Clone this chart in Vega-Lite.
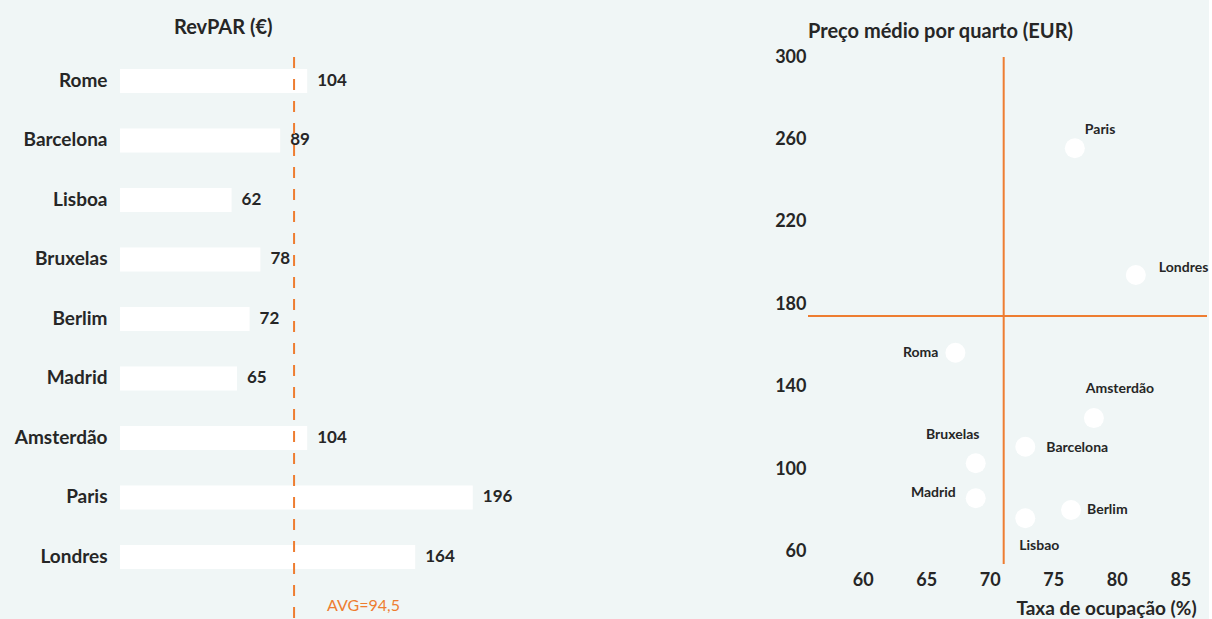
{
  "$schema": "https://vega.github.io/schema/vega-lite/v6.json",
  "background": "#f0f6f6",
  "padding": {"left": 14, "top": 18, "right": 0, "bottom": 0},
  "config": {
    "font": "Lato",
    "view": {"stroke": null},
    "axis": {"grid": false, "domain": false, "ticks": false, "labelColor": "#262626", "labelFont": "Lato", "labelFontWeight": "bold", "titleColor": "#262626", "titleFont": "Lato", "titleFontWeight": "bold"},
    "title": {"color": "#262626", "font": "Lato", "fontWeight": "bold", "fontSize": 20}
  },
  "datasets": {
    "revpar": [
      {"city": "Rome", "value": 104},
      {"city": "Barcelona", "value": 89},
      {"city": "Lisboa", "value": 62},
      {"city": "Bruxelas", "value": 78},
      {"city": "Berlim", "value": 72},
      {"city": "Madrid", "value": 65},
      {"city": "Amsterdão", "value": 104},
      {"city": "Paris", "value": 196},
      {"city": "Londres", "value": 164}
    ],
    "scatter": [
      {"city": "Paris", "occ": 76.7, "price": 255.7},
      {"city": "Londres", "occ": 81.5, "price": 194.2},
      {"city": "Roma", "occ": 67.3, "price": 156.5},
      {"city": "Amsterdão", "occ": 78.2, "price": 124.8},
      {"city": "Barcelona", "occ": 72.8, "price": 110.9},
      {"city": "Bruxelas", "occ": 68.9, "price": 102.9},
      {"city": "Madrid", "occ": 68.9, "price": 85.9},
      {"city": "Berlim", "occ": 76.4, "price": 80.2},
      {"city": "Lisbao", "occ": 72.8, "price": 76.2}
    ]
  },
  "spacing": 249,
  "hconcat": [
    {
      "width": 405,
      "height": 563,
      "title": {"text": "RevPAR (€)", "anchor": "start", "frame": "group", "dx": 54, "offset": 18},
      "layer": [
        {
          "data": {"name": "revpar"},
          "mark": {"type": "bar", "color": "white"},
          "encoding": {
            "y": {"field": "city", "type": "nominal", "sort": null,
                  "scale": {"domain": ["Rome", "Barcelona", "Lisboa", "Bruxelas", "Berlim", "Madrid", "Amsterdão", "Paris", "Londres"], "paddingInner": 0.597, "paddingOuter": 0.5296, "align": 0.19},
                  "axis": {"title": null, "labelFontSize": 19, "labelPadding": 13}},
            "x": {"field": "value", "type": "quantitative", "scale": {"domain": [0, 225], "nice": false}, "axis": null}
          }
        },
        {
          "data": {"name": "revpar"},
          "mark": {"type": "text", "align": "left", "baseline": "middle", "dx": 10, "fontSize": 17, "fontWeight": "bold", "color": "#262626"},
          "encoding": {
            "y": {"field": "city", "type": "nominal", "sort": null},
            "x": {"field": "value", "type": "quantitative"},
            "text": {"field": "value", "type": "quantitative"}
          }
        },
        {
          "data": {"values": [{"avg": 96.7}]},
          "mark": {"type": "rule", "color": "#ee7d31", "strokeDash": [11, 11], "strokeWidth": 2},
          "encoding": {"x": {"field": "avg", "type": "quantitative"}}
        },
        {
          "data": {"values": [{"avg": 96.7, "city": "Londres", "label": "AVG=94,5"}]},
          "mark": {"type": "text", "align": "left", "baseline": "middle", "dx": 33, "dy": 49, "fontSize": 16, "color": "#ee7d31"},
          "encoding": {
            "x": {"field": "avg", "type": "quantitative"},
            "y": {"field": "city", "type": "nominal", "sort": null},
            "text": {"field": "label"}
          }
        }
      ]
    },
    {
      "width": 399,
      "height": 507,
      "title": {"text": "Preço médio por quarto (EUR)", "anchor": "start", "frame": "group", "offset": 6},
      "layer": [
        {
          "data": {"values": [{"p": 174.3}]},
          "mark": {"type": "rule", "color": "#ee7d31", "strokeWidth": 2},
          "encoding": {"y": {"field": "p", "type": "quantitative", "scale": {"domain": [54, 300], "nice": false, "zero": false},
            "axis": {"title": null, "values": [60, 100, 140, 180, 220, 260, 300], "labelFontSize": 18, "labelPadding": 2}}}
        },
        {
          "data": {"values": [{"o": 71.1}]},
          "mark": {"type": "rule", "color": "#ee7d31", "strokeWidth": 2},
          "encoding": {"x": {"field": "o", "type": "quantitative", "scale": {"domain": [55.7, 87.1], "nice": false, "zero": false},
            "axis": {"title": "Taxa de ocupação (%)", "values": [60, 65, 70, 75, 80, 85], "labelFontSize": 18, "labelPadding": 7, "titleFontSize": 19, "titlePadding": 10, "titleX": 298, "titleAlign": "center"}}}
        },
        {
          "data": {"name": "scatter"},
          "mark": {"type": "circle", "size": 400, "color": "white", "opacity": 1},
          "encoding": {"x": {"field": "occ", "type": "quantitative"}, "y": {"field": "price", "type": "quantitative"}}
        },
        {
          "data": {"name": "scatter"},
          "transform": [{"filter": "datum.city === 'Paris'"}],
          "mark": {"type": "text", "align": "left", "baseline": "middle", "dx": 10, "dy": -18, "fontSize": 14, "fontWeight": "bold", "color": "#262626"},
          "encoding": {"x": {"field": "occ", "type": "quantitative"}, "y": {"field": "price", "type": "quantitative"}, "text": {"field": "city"}}
        },
        {
          "data": {"name": "scatter"},
          "transform": [{"filter": "datum.city === 'Londres'"}],
          "mark": {"type": "text", "align": "left", "baseline": "middle", "dx": 23, "dy": -7, "fontSize": 14, "fontWeight": "bold", "color": "#262626"},
          "encoding": {"x": {"field": "occ", "type": "quantitative"}, "y": {"field": "price", "type": "quantitative"}, "text": {"field": "city"}}
        },
        {
          "data": {"name": "scatter"},
          "transform": [{"filter": "datum.city === 'Roma'"}],
          "mark": {"type": "text", "align": "right", "baseline": "middle", "dx": -17, "dy": 0, "fontSize": 14, "fontWeight": "bold", "color": "#262626"},
          "encoding": {"x": {"field": "occ", "type": "quantitative"}, "y": {"field": "price", "type": "quantitative"}, "text": {"field": "city"}}
        },
        {
          "data": {"name": "scatter"},
          "transform": [{"filter": "datum.city === 'Amsterdão'"}],
          "mark": {"type": "text", "align": "center", "baseline": "middle", "dx": 26, "dy": -29, "fontSize": 14, "fontWeight": "bold", "color": "#262626"},
          "encoding": {"x": {"field": "occ", "type": "quantitative"}, "y": {"field": "price", "type": "quantitative"}, "text": {"field": "city"}}
        },
        {
          "data": {"name": "scatter"},
          "transform": [{"filter": "datum.city === 'Barcelona'"}],
          "mark": {"type": "text", "align": "left", "baseline": "middle", "dx": 21, "dy": 1, "fontSize": 14, "fontWeight": "bold", "color": "#262626"},
          "encoding": {"x": {"field": "occ", "type": "quantitative"}, "y": {"field": "price", "type": "quantitative"}, "text": {"field": "city"}}
        },
        {
          "data": {"name": "scatter"},
          "transform": [{"filter": "datum.city === 'Bruxelas'"}],
          "mark": {"type": "text", "align": "center", "baseline": "middle", "dx": -23, "dy": -28, "fontSize": 14, "fontWeight": "bold", "color": "#262626"},
          "encoding": {"x": {"field": "occ", "type": "quantitative"}, "y": {"field": "price", "type": "quantitative"}, "text": {"field": "city"}}
        },
        {
          "data": {"name": "scatter"},
          "transform": [{"filter": "datum.city === 'Madrid'"}],
          "mark": {"type": "text", "align": "right", "baseline": "middle", "dx": -20, "dy": -5, "fontSize": 14, "fontWeight": "bold", "color": "#262626"},
          "encoding": {"x": {"field": "occ", "type": "quantitative"}, "y": {"field": "price", "type": "quantitative"}, "text": {"field": "city"}}
        },
        {
          "data": {"name": "scatter"},
          "transform": [{"filter": "datum.city === 'Berlim'"}],
          "mark": {"type": "text", "align": "left", "baseline": "middle", "dx": 16, "dy": 0, "fontSize": 14, "fontWeight": "bold", "color": "#262626"},
          "encoding": {"x": {"field": "occ", "type": "quantitative"}, "y": {"field": "price", "type": "quantitative"}, "text": {"field": "city"}}
        },
        {
          "data": {"name": "scatter"},
          "transform": [{"filter": "datum.city === 'Lisbao'"}],
          "mark": {"type": "text", "align": "center", "baseline": "middle", "dx": 14, "dy": 28, "fontSize": 14, "fontWeight": "bold", "color": "#262626"},
          "encoding": {"x": {"field": "occ", "type": "quantitative"}, "y": {"field": "price", "type": "quantitative"}, "text": {"field": "city"}}
        }
      ]
    }
  ]
}
